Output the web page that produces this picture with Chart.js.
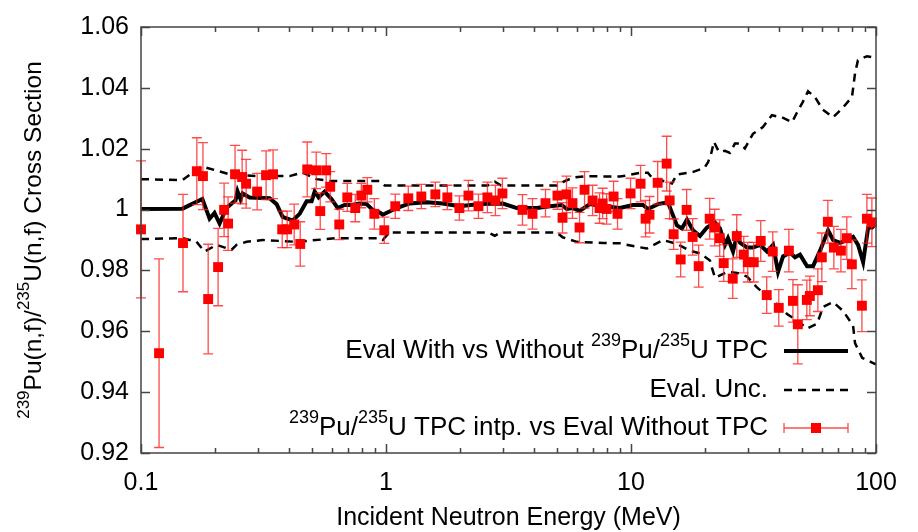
<!DOCTYPE html>
<html>
<head>
<meta charset="utf-8">
<script src="https://cdn.jsdelivr.net/npm/chart.js@4.4.1/dist/chart.umd.min.js"></script>
<style>
  body { margin: 0; background: #fff; }
  canvas { display: block; }
</style>
</head>
<body>
<canvas id="ratioChart" width="918" height="532"></canvas>
<script>
var FONT = '"Liberation Sans", Arial, Helvetica, sans-serif';

// Eval With vs Without TPC (solid black)
var evalEnergy = [0.1, 0.1477, 0.178, 0.1905, 0.1995, 0.2093, 0.2234, 0.2343, 0.2432, 0.2477, 0.2549, 0.26, 0.2774,
  0.3347, 0.3576, 0.3785, 0.416, 0.4442, 0.4743, 0.497, 0.5115, 0.531, 0.5617, 0.6, 0.635, 0.6776, 0.7244, 0.7806,
  0.834, 0.882, 0.943, 0.97, 1.106, 1.25, 1.466, 1.704, 2.0, 2.414, 2.998, 3.42, 4.127, 4.665, 5.22, 5.47, 5.79,
  6.18, 6.79, 7.67, 8.43, 9.01, 10.18, 11.19, 11.72, 12.88, 14.15, 14.69, 15.4, 16.14, 16.92, 17.9, 19.12, 20.42,
  22.02, 23.08, 24.19, 24.88, 26.09, 27.08, 27.85, 29.75, 31.48, 33.62, 35.92, 37.99, 39.82, 41.74, 44.6, 46.73,
  48.98, 52.32, 55.35, 59.12, 63.74, 66.8, 71.36, 76.2, 80.6, 84.5, 88.6, 92.9, 96.4, 100];
var evalRatio = [1.0002, 1.0003, 1.0035, 0.997, 0.9989, 0.9954, 1.0005, 1.002, 1.003, 1.006, 1.0034, 1.0053, 1.004,
  1.0037, 1.0018, 0.9976, 0.9964, 0.9986, 1.0027, 1.0027, 1.0059, 1.004, 1.0059, 1.0034, 1.0005, 1.0015, 1.0015, 1.002,
  1.0018, 0.9999, 0.999, 0.9983, 1.0005, 1.002, 1.0024, 1.002, 1.0011, 1.0018, 1.002, 1.0005, 1.0005, 1.0011, 1.0015, 1.0002, 1.0005,
  0.9996, 1.0018, 1.0011, 1.0008, 1.0005, 1.0015, 1.0015, 1.0002, 1.0018, 1.0024, 0.999, 0.9948, 0.9938, 0.9967, 0.9932, 0.9913, 0.9941,
  0.9957, 0.9938, 0.9884, 0.9906, 0.9862, 0.9916, 0.9891, 0.9875, 0.9875, 0.9884, 0.9862, 0.9884, 0.9795, 0.9846, 0.9859, 0.9843,
  0.9852, 0.9814, 0.9814, 0.9865, 0.9932, 0.99, 0.9891, 0.99, 0.991, 0.9884, 0.9827, 0.9941, 0.9941, 0.9955];

// Eval. Unc. band (dashed)
var uncUpperEnergy = [0.1, 0.1477, 0.1767, 0.2298, 0.2963, 0.4043, 0.4567, 0.5209, 0.5888, 0.943, 0.9879, 2.6, 2.78, 2.95,
  4.98, 5.26, 5.79, 6.6, 7.67, 9.01, 9.62, 10.88, 11.72, 12.17, 14.69, 15.4, 17.97, 19.93, 20.6, 21.19, 21.8, 22.84,
  24.17, 25.33, 26.55, 27.82, 29.17, 31.45, 34.54, 37.6, 41.3, 45.4, 47.6, 50.3, 52.8, 56.3, 60.7, 66.8, 73.3, 79.8,
  82.1, 84.4, 91.9, 100];
var uncUpper = [1.01, 1.0097, 1.0142, 1.0116, 1.011, 1.011, 1.0122, 1.01, 1.0094, 1.0094, 1.0079, 1.0079, 1.0092, 1.0079,
  1.0079, 1.009, 1.0105, 1.011, 1.0109, 1.0109, 1.0112, 1.0121, 1.0121, 1.0105, 1.0086, 1.0115, 1.0124, 1.0137, 1.0155, 1.018, 1.0223, 1.019,
  1.0193, 1.0186, 1.0217, 1.0217, 1.0201, 1.0249, 1.0271, 1.031, 1.0303, 1.0287, 1.0319, 1.0354, 1.0389, 1.037, 1.0328, 1.0303, 1.0335, 1.037,
  1.0447, 1.0491, 1.0504, 1.0498];
var uncLowerEnergy = [0.1, 0.1477, 0.1685, 0.1817, 0.2034, 0.2343, 0.2455, 0.2698, 0.3134, 0.4316, 0.6289, 0.943, 0.97, 1.035,
  2.6, 2.78, 2.95, 4.98, 5.26, 6.01, 7.67, 9.01, 10.37, 11.6, 13.5, 15.4, 17.4, 19.12, 21.0, 21.4, 22.02, 24.65, 27.08,
  29.75, 32.68, 36.25, 39.45, 43.35, 47.6, 52.3, 57.5, 60.8, 66.8, 73.4, 80.6, 82.1, 87.8, 96.4, 100];
var uncLower = [0.9903, 0.9906, 0.9894, 0.9862, 0.9884, 0.9868, 0.9884, 0.9894, 0.99, 0.9894, 0.9906, 0.9906, 0.99, 0.9925,
  0.9925, 0.9914, 0.9925, 0.9925, 0.9909, 0.9894, 0.989, 0.9889, 0.9879, 0.9872, 0.99, 0.9887, 0.9865, 0.9856, 0.9833, 0.9808, 0.9776, 0.9795, 0.9792,
  0.978, 0.9744, 0.9712, 0.9689, 0.9657, 0.9635, 0.9609, 0.9625, 0.968, 0.9696, 0.9667, 0.9619, 0.9561, 0.9513, 0.9497, 0.9491];

// 239Pu/235U TPC intp. vs Eval Without TPC (red squares with error bars)
var tpcEnergy = [0.1, 0.1185, 0.1484, 0.169, 0.179, 0.188, 0.2064, 0.2184, 0.2267, 0.242, 0.2587, 0.2686, 0.2979, 0.324,
  0.346, 0.377, 0.395, 0.422, 0.4466, 0.477, 0.519, 0.539, 0.57, 0.592, 0.6445, 0.695, 0.749, 0.793, 0.839, 0.896,
  0.984, 1.091, 1.233, 1.394, 1.59, 1.78, 1.993, 2.17, 2.384, 2.594, 2.797, 2.987, 3.606, 3.962, 4.477, 5.01, 5.254,
  5.452, 5.77, 6.166, 6.463, 6.97, 7.44, 7.66, 7.95, 8.49, 8.81, 9.96, 10.94, 11.47, 11.9, 12.85, 13.98, 14.38, 14.93,
  15.95, 16.87, 17.85, 18.89, 20.95, 21.96, 23.02, 23.9, 26.02, 27.02, 28.85, 29.96, 31.7, 33.85, 35.8, 37.9, 40.1,
  44.1, 45.8, 47.96, 52.2, 53.7, 57.9, 60.1, 63.6, 67.3, 71.9, 76.0, 79.7, 87.6, 91.8, 96.2];
var tpcRatio = [0.9935, 0.9528, 0.989, 1.0126, 1.011, 0.9706, 0.9811, 0.9999, 0.9954, 1.0116, 1.0107, 1.0085, 1.0059, 1.0113,
  1.0116, 0.9935, 0.9935, 0.9951, 0.9887, 1.0132, 1.0129, 0.9995, 1.0129, 1.0075, 0.9951, 1.004, 1.0005, 1.0046, 1.0065, 0.9986,
  0.9932, 1.0011, 1.0037, 1.0043, 1.005, 1.004, 1.0005, 1.0046, 1.0011, 1.004, 1.003, 1.0053, 0.9999, 0.9986, 1.0021, 1.0046, 0.9973,
  1.005, 1.0021, 0.9941, 1.0065, 1.003, 1.0005, 1.002, 1.0002, 1.0043, 0.9986, 1.0053, 1.0085, 0.997, 0.9983, 1.0088, 1.0151, 1.003, 0.9919,
  0.9836, 0.9999, 0.991, 0.9814, 0.997, 0.9941, 0.9906, 0.9824, 0.9773, 0.9913, 0.9852, 0.9827, 0.9827, 0.9897, 0.9719, 0.9862, 0.9677,
  0.9865, 0.97, 0.9623, 0.9703, 0.9716, 0.9735, 0.9843, 0.996, 0.9875, 0.9865, 0.9906, 0.982, 0.9684, 0.997, 0.9958];
var tpcError = [0.0225, 0.031, 0.016, 0.011, 0.011, 0.018, 0.0127, 0.0088, 0.0088, 0.0095, 0.0088, 0.008, 0.006, 0.008,
  0.008, 0.006, 0.006, 0.0067, 0.0073, 0.009, 0.006, 0.006, 0.0055, 0.005, 0.005, 0.0046, 0.0045, 0.004, 0.004, 0.005,
  0.0043, 0.004, 0.004, 0.004, 0.004, 0.004, 0.004, 0.005, 0.004, 0.005, 0.005, 0.005, 0.005, 0.005, 0.0045, 0.0045, 0.005,
  0.006, 0.005, 0.005, 0.006, 0.005, 0.005, 0.005, 0.005, 0.005, 0.005, 0.005, 0.006, 0.006, 0.006, 0.007, 0.009, 0.006, 0.005,
  0.0057, 0.0067, 0.006, 0.0069, 0.0067, 0.006, 0.006, 0.006, 0.0065, 0.007, 0.006, 0.0065, 0.0065, 0.0067, 0.006, 0.0065, 0.006,
  0.007, 0.007, 0.013, 0.0065, 0.0065, 0.007, 0.008, 0.007, 0.007, 0.007, 0.007, 0.008, 0.0085, 0.008, 0.008];

var xTickValues = [0.1, 1, 10, 100];
var xTickLabels = ['0.1', '1', '10', '100'];
var yTickValues = [0.92, 0.94, 0.96, 0.98, 1.0, 1.02, 1.04, 1.06];
var yTickLabels = ['0.92', '0.94', '0.96', '0.98', '1', '1.02', '1.04', '1.06'];

function pairs(xs, ys) {
  return xs.map(function(x, i) { return { x: x, y: ys[i] }; });
}

// draws text made of [string, isSuperscript] parts
function richWidth(ctx, parts, size) {
  var w = 0;
  parts.forEach(function(p) {
    ctx.font = (p[1] ? Math.round(size * 0.68) : size) + 'px ' + FONT;
    w += ctx.measureText(p[0]).width;
  });
  return w;
}
function drawRich(ctx, parts, x, y, size, align) {
  var w = richWidth(ctx, parts, size);
  var cx = align === 'right' ? x - w : (align === 'center' ? x - w / 2 : x);
  ctx.textBaseline = 'middle';
  ctx.textAlign = 'left';
  parts.forEach(function(p) {
    ctx.font = (p[1] ? Math.round(size * 0.68) : size) + 'px ' + FONT;
    ctx.fillText(p[0], cx, p[1] ? y - size * 0.38 : y);
    cx += ctx.measureText(p[0]).width;
  });
}

var errorBars = {
  id: 'errorBars',
  beforeDatasetDraw: function(chart, args) {
    if (args.index !== 0) return;
    var ctx = chart.ctx, xs = chart.scales.x, ys = chart.scales.y;
    ctx.save();
    ctx.strokeStyle = 'rgba(255,30,30,0.8)';
    ctx.lineWidth = 1.3;
    tpcEnergy.forEach(function(e, i) {
      var px = xs.getPixelForValue(e);
      var top = ys.getPixelForValue(tpcRatio[i] + tpcError[i]);
      var bot = ys.getPixelForValue(tpcRatio[i] - tpcError[i]);
      ctx.beginPath();
      ctx.moveTo(px, top); ctx.lineTo(px, bot);
      ctx.moveTo(px - 5, top); ctx.lineTo(px + 5, top);
      ctx.moveTo(px - 5, bot); ctx.lineTo(px + 5, bot);
      ctx.stroke();
    });
    ctx.restore();
  }
};

var frameAndText = {
  id: 'frameAndText',
  afterDraw: function(chart) {
    var ctx = chart.ctx, a = chart.chartArea, xs = chart.scales.x, ys = chart.scales.y;
    ctx.save();
    // frame
    ctx.strokeStyle = '#444';
    ctx.lineWidth = 1.5;
    ctx.strokeRect(a.left, a.top, a.right - a.left, a.bottom - a.top);
    // inward ticks
    ctx.beginPath();
    yTickValues.forEach(function(v) {
      var py = Math.round(ys.getPixelForValue(v)) + 0.5;
      ctx.moveTo(a.left, py); ctx.lineTo(a.left + 9, py);
      ctx.moveTo(a.right, py); ctx.lineTo(a.right - 9, py);
    });
    for (var d = -1; d <= 2; d++) {
      for (var k = 1; k <= 9; k++) {
        var v = k * Math.pow(10, d);
        if (v > 100.001) break;
        var px = Math.round(xs.getPixelForValue(v)) + 0.5;
        var len = k === 1 ? 9 : 5;
        ctx.moveTo(px, a.bottom); ctx.lineTo(px, a.bottom - len);
        ctx.moveTo(px, a.top); ctx.lineTo(px, a.top + len);
      }
    }
    ctx.stroke();

    ctx.fillStyle = '#000';
    // x title
    drawRich(ctx, [['Incident Neutron Energy (MeV)', false]], (a.left + a.right) / 2, 518, 25, 'center');
    // y title
    ctx.save();
    ctx.translate(34, (a.top + a.bottom) / 2);
    ctx.rotate(-Math.PI / 2);
    drawRich(ctx, [['239', true], ['Pu(n,f)/', false], ['235', true], ['U(n,f) Cross Section', false]], 0, 0, 24.5, 'center');
    ctx.restore();

    // legend
    var tx = 768, sx0 = 784, sx1 = 848;
    var rows = [351, 390, 428];
    drawRich(ctx, [['Eval With vs Without ', false], ['239', true], ['Pu/', false], ['235', true], ['U TPC', false]], tx, rows[0], 26, 'right');
    drawRich(ctx, [['Eval. Unc.', false]], tx, rows[1], 26, 'right');
    drawRich(ctx, [['239', true], ['Pu/', false], ['235', true], ['U TPC intp. vs Eval Without TPC', false]], tx, rows[2], 26, 'right');

    ctx.strokeStyle = '#000';
    ctx.lineWidth = 4;
    ctx.beginPath(); ctx.moveTo(sx0, rows[0]); ctx.lineTo(sx1, rows[0]); ctx.stroke();
    ctx.lineWidth = 2.5;
    ctx.setLineDash([8, 6]);
    ctx.beginPath(); ctx.moveTo(sx0, rows[1]); ctx.lineTo(sx1, rows[1]); ctx.stroke();
    ctx.setLineDash([]);
    ctx.strokeStyle = 'rgba(255,30,30,0.8)';
    ctx.lineWidth = 1.3;
    ctx.beginPath();
    ctx.moveTo(sx0, rows[2]); ctx.lineTo(sx1, rows[2]);
    ctx.moveTo(sx0, rows[2] - 5); ctx.lineTo(sx0, rows[2] + 5);
    ctx.moveTo(sx1, rows[2] - 5); ctx.lineTo(sx1, rows[2] + 5);
    ctx.stroke();
    ctx.fillStyle = '#ff0000';
    var mid = (sx0 + sx1) / 2;
    ctx.fillRect(mid - 5, rows[2] - 5, 10, 10);
    ctx.restore();
  }
};

var canvas = document.getElementById('ratioChart');
var ctx = canvas.getContext('2d');
var chart = new Chart(ctx, {
  type: 'scatter',
  data: {
    datasets: [
      {
        label: '239Pu/235U TPC intp. vs Eval Without TPC',
        data: pairs(tpcEnergy, tpcRatio),
        pointStyle: 'rect',
        pointRadius: 7,
        backgroundColor: '#ff0000',
        borderWidth: 0,
        showLine: false,
        clip: false
      },
      {
        label: 'Eval With vs Without 239Pu/235U TPC',
        data: pairs(evalEnergy, evalRatio),
        showLine: true,
        borderColor: '#000',
        borderWidth: 4,
        pointRadius: 0,
        borderJoinStyle: 'miter'
      },
      {
        label: 'Eval. Unc.',
        data: pairs(uncUpperEnergy, uncUpper),
        showLine: true,
        borderColor: '#000',
        borderWidth: 2.5,
        borderDash: [8, 6],
        pointRadius: 0
      },
      {
        label: 'Eval. Unc. lower',
        data: pairs(uncLowerEnergy, uncLower),
        showLine: true,
        borderColor: '#000',
        borderWidth: 2.5,
        borderDash: [8, 6],
        pointRadius: 0
      }
    ]
  },
  options: {
    responsive: false,
    devicePixelRatio: 1,
    animation: false,
    layout: { padding: { top: 15, right: 42, left: 0, bottom: 0 } },
    plugins: { legend: { display: false }, tooltip: { enabled: false } },
    scales: {
      x: {
        type: 'logarithmic',
        min: 0.1,
        max: 100,
        grid: { display: false, drawTicks: false },
        border: { display: false },
        afterBuildTicks: function(axis) {
          axis.ticks = xTickValues.map(function(v) { return { value: v }; });
        },
        afterFit: function(axis) { axis.height = 79; },
        ticks: {
          autoSkip: false,
          maxRotation: 0,
          padding: 15,
          color: '#000',
          font: { family: FONT, size: 25 },
          callback: function(v) {
            var i = xTickValues.indexOf(v);
            return i >= 0 ? xTickLabels[i] : '';
          }
        }
      },
      y: {
        min: 0.92,
        max: 1.06,
        grid: { display: false, drawTicks: false },
        border: { display: false },
        afterBuildTicks: function(axis) {
          axis.ticks = yTickValues.map(function(v) { return { value: v }; });
        },
        afterFit: function(axis) { axis.width = 141; },
        ticks: {
          padding: 12,
          color: '#000',
          font: { family: FONT, size: 25 },
          callback: function(v, i) { return yTickLabels[i]; }
        }
      }
    }
  },
  plugins: [errorBars, frameAndText]
});
</script>
</body>
</html>
